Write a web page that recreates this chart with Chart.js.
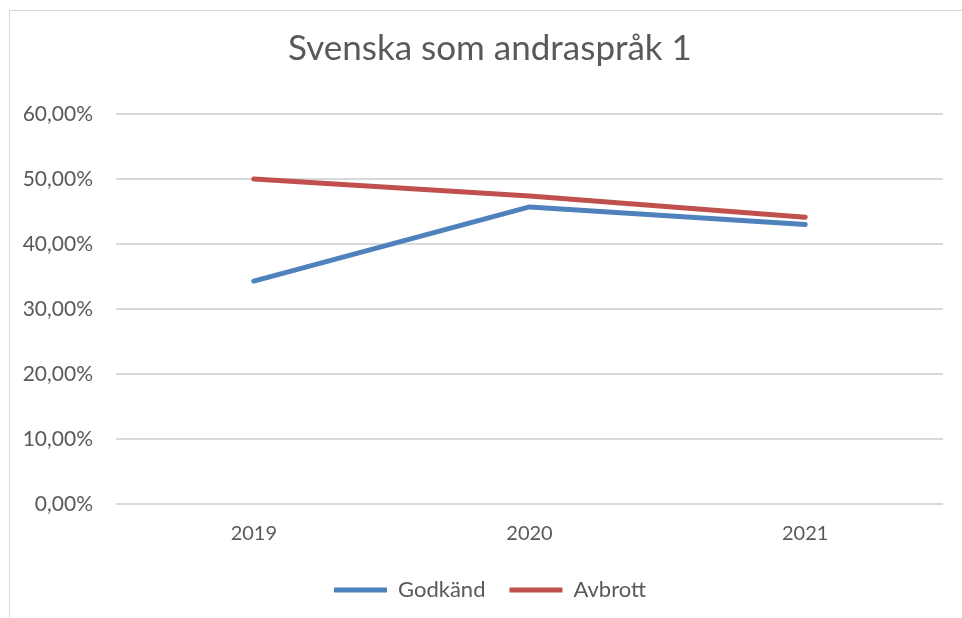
<!DOCTYPE html>
<html>
<head>
<meta charset="utf-8">
<script src="https://cdn.jsdelivr.net/npm/chart.js@4"></script>
<style>
  html, body { margin: 0; padding: 0; background: #fff; overflow: hidden; }
  #frame { position: absolute; left: 9px; top: 10px; width: 1000px; height: 700px; border: 1.5px solid #d9d9d9; }
  #wrap { position: absolute; left: 0; top: 0; width: 962px; height: 618px; }
</style>
</head>
<body>
<div id="frame"></div>
<div id="wrap"><canvas id="chart" width="962" height="618"></canvas></div>
<script>
const years = ['2019', '2020', '2021']
const godkand = [34.3, 45.7, 43.0]   // procent
const avbrott = [50.0, 47.4, 44.1]   // procent
const yTicks = [0, 10, 20, 30, 40, 50, 60]

const textColor = '#595959'
const fontFamily = 'Lato, "Open Sans", sans-serif'

const ctx = document.getElementById('chart').getContext('2d')

new Chart(ctx, {
  type: 'line',
  data: {
    labels: years,
    datasets: [{
      label: 'Godkänd',
      data: godkand,
      borderColor: '#4f81bd',
      backgroundColor: '#4f81bd',
      borderWidth: 5,
      borderCapStyle: 'round',
      borderJoinStyle: 'round',
      pointRadius: 0,
      tension: 0
    }, {
      label: 'Avbrott',
      data: avbrott,
      borderColor: '#c0504d',
      backgroundColor: '#c0504d',
      borderWidth: 5,
      borderCapStyle: 'round',
      borderJoinStyle: 'round',
      pointRadius: 0,
      tension: 0
    }]
  },
  options: {
    responsive: false,
    animation: false,
    layout: { padding: { left: 18, right: 0, top: 0, bottom: 7 } },
    plugins: {
      title: {
        display: true,
        text: 'Svenska som andraspråk 1',
        color: textColor,
        font: { family: fontFamily, size: 35, weight: 'normal' },
        padding: { top: 28, bottom: 44 }
      },
      legend: {
        position: 'bottom',
        labels: {
          usePointStyle: true,
          pointStyle: 'line',
          pointStyleWidth: 53,
          padding: 24,
          color: textColor,
          font: { family: fontFamily, size: 22 }
        }
      },
      tooltip: { enabled: false }
    },
    scales: {
      x: {
        offset: true,
        grid: { display: false },
        border: { display: false },
        ticks: { color: textColor, font: { family: fontFamily, size: 20 }, padding: 10 },
        afterFit: function (scale) { scale.height = 51 }
      },
      y: {
        min: 0,
        max: 60,
        afterBuildTicks: function (scale) { scale.ticks = yTicks.map(v => ({ value: v })) },
        grid: { color: '#d9d9d9', lineWidth: 2, drawTicks: false },
        border: { display: false },
        ticks: {
          color: textColor,
          font: { family: fontFamily, size: 21 },
          padding: 23,
          callback: v => v.toFixed(2).replace('.', ',') + '%'
        },
        afterFit: function (scale) { scale.width = 98 }
      },
      // empty spacer on the right so the title and legend centre like the original
      spacer: {
        type: 'linear',
        position: 'right',
        grid: { display: false },
        border: { display: false },
        ticks: { display: false },
        afterFit: function (scale) { scale.width = 19 }
      }
    }
  }
})
</script>
</body>
</html>
